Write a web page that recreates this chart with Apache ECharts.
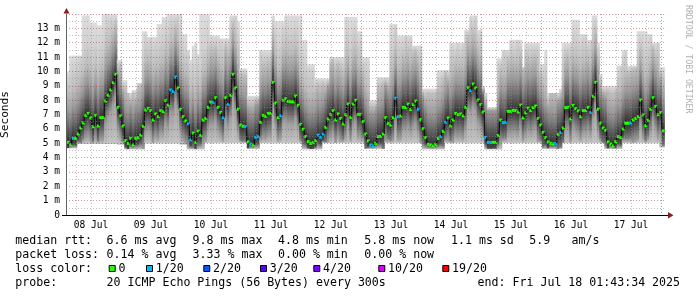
<!DOCTYPE html>
<html><head><meta charset="utf-8">
<script src="https://cdn.jsdelivr.net/npm/echarts@6/dist/echarts.min.js"></script>
<style>html,body{margin:0;padding:0;background:#fff}#c{width:697px;height:297px}</style>
</head><body><div id="c"></div>
<script>
// ---- data (hourly samples, first sample 08 Jul ~02:48) ----
const firstSampleHour = 2.8; // hours after 08 Jul 00:00
const dayLabels = ['08 Jul','09 Jul','10 Jul','11 Jul','12 Jul','13 Jul','14 Jul','15 Jul','16 Jul','17 Jul'];
const yTickLabels = ['0','1 m','2 m','3 m','4 m','5 m','6 m','7 m','8 m','9 m','10 m','11 m','12 m','13 m',''];

const medianMs = [
5.06,4.90,5.34,5.34,5.64,6.06,6.41,6.94,7.08,6.76,
6.15,6.94,6.20,6.78,6.80,7.94,8.34,8.71,9.22,9.80,
7.50,6.92,6.20,5.18,4.99,5.34,4.88,5.34,5.39,5.57,
6.18,7.31,7.43,7.27,6.62,7.04,6.85,7.27,7.20,7.96,
7.66,8.71,8.61,9.61,8.85,7.36,6.85,6.55,6.34,5.23,
5.71,5.04,5.85,5.55,6.62,6.73,7.50,7.87,7.85,
8.17,7.50,7.15,6.78,8.17,7.71,8.34,9.80,8.85,7.36,
6.27,6.18,6.15,5.09,4.95,4.88,5.41,5.48,6.46,6.94,
6.87,7.08,7.08,9.24,7.80,6.78,6.92,7.99,8.10,7.92,
7.89,7.89,8.29,7.64,6.32,5.97,5.46,5.11,4.99,5.04,
5.18,5.57,5.41,5.64,6.11,6.69,7.01,7.27,6.62,7.04,
6.73,6.34,6.99,7.73,6.80,7.73,7.99,7.01,7.01,6.50,
5.64,5.16,4.88,4.81,4.99,5.46,5.48,5.64,6.78,6.36,
6.27,6.78,8.13,6.85,6.90,7.50,7.48,7.73,7.34,7.69,
7.94,7.34,6.64,6.01,5.39,4.92,4.88,4.80,4.92,5.34,
5.46,5.83,6.46,6.76,6.20,6.62,7.08,6.99,7.04,6.90,
7.50,8.87,8.66,9.13,8.85,8.01,7.69,7.17,5.41,5.06,
5.04,5.06,5.06,5.55,6.62,6.43,6.46,7.22,7.22,7.29,
7.27,7.17,7.66,6.76,7.11,7.45,7.27,7.48,7.59,6.73,
6.27,5.76,5.39,5.09,4.99,4.95,4.99,5.62,5.74,6.06,
7.48,7.50,6.69,7.64,7.41,7.25,6.85,7.27,7.27,7.50,
7.15,8.27,9.24,7.36,6.39,6.06,5.90,5.09,4.95,4.81,
5.11,5.46,5.39,5.99,6.39,6.39,6.41,6.62,6.73,6.85,
8.01,6.97,6.22,6.60,7.36,8.17,7.57,6.99,7.13,5.87];

// lost pings per sample (out of 20)
const lossCount = [
0,0,1,0,0,0,0,0,0,0, 0,0,0,0,0,0,0,0,0,0, 0,0,0,0,0,0,0,0,0,0, 0,0,0,0,0,0,0,0,0,0,
0,1,1,1,0,0,0,0,1,1, 0,0,0,0,0,0,0,0,1,0, 0,0,1,0,1,0,0,0,0,0, 0,1,0,1,0,1,1,0,0,0,
0,0,0,0,0,1,0,0,0,0, 0,0,0,0,0,0,0,0,0,0, 1,1,1,0,0,0,0,0,0,0, 0,0,0,0,0,0,0,0,0,0,
0,1,1,0,0,0,0,0,0,0, 0,1,1,0,0,0,0,0,0,0, 1,0,0,0,0,0,0,0,0,1, 0,1,0,0,0,0,0,0,0,0,
0,1,0,0,0,0,0,1,1,1, 0,0,0,0,1,1,0,0,0,0, 0,0,0,0,0,0,0,0,0,0, 0,0,0,0,0,1,0,1,0,0,
0,0,0,0,0,0,0,0,0,1, 0,0,0,0,0,0,0,0,0,0, 0,0,0,0,0,1,0,0,0,0, 0,0,0,0,0,0,0,0,0];

// slowest ping of each sample (top of smoke), ms
const smokeHi = [
10.0,11.1,11.1,11.1,11.1,11.1,13.9,13.9,13.9,13.4,
13.4,13.4,13.2,13.2,14,14,14,14,14,14,
10.8,10.8,9.4,9.4,8.5,8.5,8.7,8.7,9.2,9.2,
12.8,12.8,12.4,12.4,12.4,12.4,13.3,13.3,13.8,13.8,
14,14,14,14,14,14,12.6,12.6,11.5,10.8,
11.8,12.0,11.2,14,14,14,14,12.5,12.5,12.5,
12.5,12.3,12.3,12.3,12.3,13.9,13.9,13.9,13.5,10.2,
10.2,10.2,8.3,8.3,8.3,8.3,8.3,11.5,11.5,11.5,
11.5,11.5,13.9,13.5,13.5,13.5,13.5,13.9,13.9,13.9,
13.9,13.9,13.9,13.9,12.2,12.2,10.5,10.5,10.5,9.5,
9.5,9.5,9.5,9.5,9.5,11.0,11.0,11.0,11.0,11.0,
11.0,13.8,13.8,13.8,13.8,13.8,12.8,12.8,11.0,11.0,
11.0,8.0,8.0,8.0,9.6,9.6,9.6,9.6,9.6,13.3,
13.3,13.3,12.5,12.5,12.5,12.5,12.5,12.5,11.8,11.8,
11.8,11.8,8.8,8.8,8.8,8.8,8.8,8.8,10.1,10.1,
10.1,10.1,10.1,12.0,12.0,12.0,12.0,12.0,12.0,12.9,
12.9,13.9,13.9,13.9,12.9,12.9,9.0,8.5,7.5,7.5,
7.5,7.5,10.9,10.9,11.5,11.5,11.5,12.2,12.2,12.2,
12.2,12.2,10.3,12.0,12.0,12.0,12.0,12.0,12.0,10.5,
10.5,11.5,8.5,8.5,8.5,8.5,8.5,8.8,12.0,12.0,
12.0,12.0,13.6,13.6,13.6,12.6,12.6,12.6,12.2,12.2,
13.9,13.9,12.0,9.8,9.0,9.0,9.0,9.0,9.0,9.0,
10.4,10.4,11.5,11.5,10.4,10.4,10.4,10.4,12.8,12.8,
12.8,12.8,12.6,12.6,12.0,12.0,12.0,10.3,10.3];

// fastest ping of each sample (bottom of smoke), ms
const smokeLo = [
4.64,4.64,4.64,4.64,4.95,4.95,4.95,4.95,4.95,4.95,
4.95,4.95,4.95,4.95,4.95,4.95,4.95,4.95,4.95,4.95,
4.9,4.9,4.9,4.57,4.57,4.57,4.57,4.57,4.57,4.57,
4.57,4.98,4.98,4.98,4.98,4.98,4.98,4.98,4.98,4.98,
4.98,4.98,4.98,4.98,4.98,4.9,4.9,4.9,4.57,4.57,
4.57,4.57,4.57,4.57,4.57,5.0,5.0,5.0,5.0,5.0,
5.0,5.0,5.0,5.0,5.0,5.0,5.0,5.0,5.0,5.0,
5.0,5.0,4.6,4.6,4.6,4.6,4.6,5.0,5.0,5.0,
5.0,5.0,5.0,5.0,5.0,5.0,5.0,5.0,5.0,5.0,
5.0,5.0,5.0,5.0,4.57,4.57,4.57,4.57,4.57,4.57,
4.57,4.57,5.0,5.0,5.0,5.0,5.0,5.0,5.0,5.0,
5.0,5.0,5.0,5.0,5.0,5.0,5.0,5.0,5.0,4.6,
4.6,4.6,4.6,4.6,4.6,4.6,4.6,5.0,5.0,5.0,
5.0,5.0,5.0,5.0,5.0,5.0,5.0,5.0,5.0,5.0,
5.0,5.0,4.57,4.57,4.57,4.57,4.57,4.57,4.57,4.57,
4.57,5.0,5.0,5.0,5.0,5.0,5.0,5.0,5.0,5.0,
5.0,5.0,5.0,5.0,5.0,5.0,5.0,4.57,4.57,4.57,
4.57,4.57,4.57,4.57,5.0,5.0,5.0,5.0,5.0,5.0,
5.0,5.0,5.0,5.0,5.0,5.0,5.0,5.0,5.0,5.0,
4.6,4.6,4.6,4.6,4.6,4.6,4.6,4.6,5.0,5.0,
5.0,5.0,5.0,5.0,5.0,5.0,5.0,5.0,5.0,5.0,
5.0,5.0,5.0,5.0,5.0,4.6,4.6,4.6,4.6,4.6,
4.6,4.6,5.0,5.0,5.0,5.0,5.0,5.0,5.0,5.0,
5.0,5.0,5.0,5.0,5.0,5.0,5.0,4.7,4.7];

const lossLegend = [['0',0],['1/20',1],['2/20',2],['3/20',3],['4/20',4],['10/20',10],['19/20',19]];
const lossColors = {0:'#26ff00',1:'#00b8ff',2:'#0059ff',3:'#5e00ff',4:'#7e00ff',10:'#dd00ff',19:'#ff0000'};
const medianStats = ['6.6 ms avg','9.8 ms max','4.8 ms min','5.8 ms now','1.1 ms sd','5.9','am/s'];
const lossStats = ['0.14 % avg','3.33 % max','0.00 % min','0.00 % now'];
const probeText = '20 ICMP Echo Pings (56 Bytes) every 300s';
const endText = 'end: Fri Jul 18 01:43:34 2025';

// ---- chart ----
const MONO = '"DejaVu Sans Mono", monospace';
const hourMin = 2, hourMax = 242;
const sixHourTicks = [], dayTicks = [], labelHours = [];
for (let h = 6; h < hourMax; h += 6) (h % 24 === 0 ? dayTicks : sixHourTicks).push(h);
dayLabels.forEach((_, i) => labelHours.push(12 + 24 * i));

const lossColor = c => {
  const keys = Object.keys(lossColors).map(Number).sort((a,b)=>a-b);
  let k = 0; keys.forEach(x => { if (c >= x) k = x; });
  return lossColors[k];
};

const SMOKE_UP = [{d:5.0,c:'#d0d0d0'},{d:3.5,c:'#bdbdbd'},{d:2.2,c:'#999999'},{d:1.2,c:'#6c6c6c'},{d:0.4,c:'#444444'}];
const SMOKE_DOWN = [{d:0.4,c:'#4a4a4a'},{d:1.0,c:'#787878'},{d:1.6,c:'#a0a0a0'}];
function smokeFill(lo, hi, med) {
  const span = hi - lo, off = v => (hi - v) / span;
  const stops = [{offset:0, color:'#dcdcdc'}];
  SMOKE_UP.forEach(s => { const v = med + s.d; if (v < hi) stops.push({offset:off(v), color:s.c}); });
  stops.push({offset:off(med), color:'#2e2e2e'});
  SMOKE_DOWN.forEach(s => { const v = med - s.d; if (v > lo) stops.push({offset:off(v), color:s.c}); });
  stops.push({offset:1, color:'#c4c4c4'});
  return new echarts.graphic.LinearGradient(0,0,0,1,stops);
}

const smokeData = medianMs.map((m, i) => [firstSampleHour + i, smokeLo[i], smokeHi[i], m]);
const medData = medianMs.map((m, i) => [firstSampleHour + i, m, lossCount[i]]);

const graphics = [];
const txt = (x, y, s, extra) => graphics.push(Object.assign({type:'text', x, y, silent:true,
  style:{text:s, font:'11.6px ' + MONO, fill:'#000', textAlign:'left', textVerticalAlign:'middle'}}, extra||{}));
// legend rows
const statX = [106.6, 192.6, 278, 364.3, 451, 529.3, 571.6];
txt(15.3, 240.7, 'median rtt:'); medianStats.forEach((s,i)=>txt(statX[i], 240.7, s));
txt(15.3, 255, 'packet loss:'); lossStats.forEach((s,i)=>txt(statX[i], 255, s));
txt(15.3, 269, 'loss color:');
const boxX = [108.7, 146, 203.3, 260, 313.3, 378.3, 442.3];
lossLegend.forEach(([lab, c], i) => {
  graphics.push({type:'rect', silent:true, shape:{x:boxX[i]+0.5, y:265.5, width:6, height:6},
    style:{fill:lossColors[c], stroke:'#000', lineWidth:1}});
  txt(boxX[i] + 9.7, 269, lab);
});
txt(15.3, 283.3, 'probe:'); txt(106.6, 283.3, probeText); txt(477.6, 283.3, endText);
// watermark
graphics.push({type:'text', x:688, y:5, rotation:-Math.PI/2, silent:true,
  style:{text:'RRDTOOL / TOBI OETIKER', font:'8.2px ' + MONO, fill:'#b0b0b0', textAlign:'left', textVerticalAlign:'middle'}});
// axis arrows
graphics.push({type:'polygon', silent:true, shape:{points:[[63.5,13.5],[69.5,13.5],[66.5,8]]}, style:{fill:'#8b1c1c'}});
graphics.push({type:'polygon', silent:true, shape:{points:[[668,212],[668,218.5],[673.5,215.3]]}, style:{fill:'#8b1c1c'}});
graphics.push({type:'line', silent:true, shape:{x1:62, y1:215.5, x2:668, y2:215.5}, style:{stroke:'#000', lineWidth:1}});

const chart = echarts.init(document.getElementById('c'), null, {renderer:'canvas'});
chart.setOption({
  animation:false,
  backgroundColor:'#ffffff',
  grid:{left:66, top:14, width:600, height:201, containLabel:false, outerBoundsMode:'none'},
  xAxis:[{
    type:'value', min:hourMin, max:hourMax, z:10,
    axisLine:{show:true, onZero:false, lineStyle:{color:'#000', width:1}},
    axisTick:{show:false, customValues:sixHourTicks},
    axisLabel:{show:true, customValues:labelHours, formatter:v => dayLabels[Math.round((v-12)/24)] || '',
      fontFamily:MONO, fontSize:9.6, color:'#000', margin:5},
    splitLine:{show:true, lineStyle:{color:'rgba(140,140,140,0.55)', width:1, type:[1,2]}}
  },{
    type:'value', min:hourMin, max:hourMax, z:11, position:'bottom',
    axisLine:{show:false}, axisLabel:{show:false},
    axisTick:{show:false, customValues:dayTicks},
    splitLine:{show:true, lineStyle:{color:'rgba(150,30,30,0.45)', width:1, type:[1,2]}}
  }],
  yAxis:{
    type:'value', min:0, max:14, interval:1, z:10,
    name:'Seconds', nameLocation:'middle', nameGap:55, nameRotate:90,
    nameTextStyle:{fontFamily:MONO, fontSize:11.2, color:'#000'},
    axisLine:{show:true, lineStyle:{color:'#606060', width:1}},
    axisTick:{show:false},
    axisLabel:{formatter:v => yTickLabels[Math.round(v)], fontFamily:MONO, fontSize:9.6, color:'#000', margin:6},
    splitLine:{show:true, lineStyle:{color:'rgba(150,30,30,0.45)', width:1, type:[1,2]}},
    minorTick:{show:false, splitNumber:2},
    minorSplitLine:{show:true, lineStyle:{color:'rgba(140,140,140,0.55)', width:1, type:[1,2]}}
  },
  series:[{
    type:'custom', name:'smoke', z:2, clip:true, data:smokeData, encode:{x:0, y:[1,2]},
    renderItem:(params, api) => {
      const h = api.value(0), lo = api.value(1), hi = api.value(2), med = api.value(3);
      const a = api.coord([h - 0.5, hi]), b = api.coord([h + 0.5, lo]);
      return {type:'rect', shape:{x:a[0], y:a[1], width:b[0]-a[0]+0.6, height:b[1]-a[1]},
        style:{fill:smokeFill(lo, hi, med)}};
    }
  },{
    type:'custom', name:'median', z:3, clip:true, data:medData, encode:{x:0, y:1},
    renderItem:(params, api) => {
      const i = params.dataIndex;
      const h = api.value(0), m = api.value(1), c = api.value(2);
      const l = api.coord([h - 0.5, m]), r = api.coord([h + 0.5, m]);
      const children = [];
      if (i > 0) {
        const p = api.coord([h - 0.5, medianMs[i-1]]);
        children.push({type:'line', shape:{x1:l[0], y1:p[1], x2:l[0], y2:l[1]}, style:{stroke:'#000', lineWidth:1}});
      }
      children.push({type:'rect', shape:{x:l[0], y:l[1]-1.5, width:r[0]-l[0]+0.4, height:3}, style:{fill:lossColor(c)}});
      return {type:'group', children};
    }
  }],
  graphic:graphics
});
</script></body></html>
